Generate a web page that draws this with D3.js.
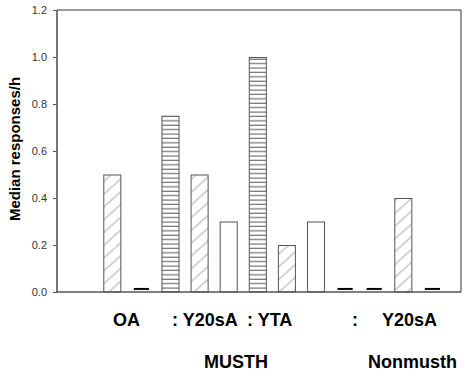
<!DOCTYPE html>
<html>
<head>
<meta charset="utf-8">
<script src="https://cdn.jsdelivr.net/npm/d3@7"></script>
<style>
  html, body { margin: 0; padding: 0; background: #fff; }
  svg { display: block; font-family: Arial, "Liberation Sans", Helvetica, sans-serif; }
</style>
</head>
<body>
<svg id="chart" width="465" height="376"></svg>
<script>
// ---- data ----
const barIds = ["b1","b2","b3","b4","b5","b6","b7","b8","b9","b10","b11","b12"];
const barValues = [0.5, 0.01, 0.75, 0.5, 0.3, 1.0, 0.2, 0.3, 0.01, 0.01, 0.4, 0.01];
const barSeries = ["diag","zero","horiz","diag","open","horiz","diag","open","zero","zero","diag","zero"];
const yTicks = [0.0, 0.2, 0.4, 0.6, 0.8, 1.0, 1.2];
const groupLabels = ["OA", ": Y20sA", ": YTA", ":", "Y20sA"];
const conditionLabels = ["MUSTH", "Nonmusth"];
const yTitle = "Median responses/h";

// ---- layout ----
const W = 465, H = 376;
const plot = { left: 57, right: 461, top: 10, bottom: 292 };
const svg = d3.select("#chart");

const y = d3.scaleLinear().domain([0, 1.2]).range([plot.bottom, plot.top]);
const x = d3.scaleBand().domain(barIds).range([97.75, 446.95]).paddingInner(0.38).paddingOuter(0.19);

// patterns
const defs = svg.append("defs");
const pd = defs.append("pattern").attr("id", "p-diag").attr("patternUnits", "userSpaceOnUse")
  .attr("width", 10).attr("height", 9.5).attr("patternTransform", "rotate(-42)");
pd.append("rect").attr("width", 10).attr("height", 9.5).attr("fill", "#fff");
pd.append("line").attr("x1", 0).attr("y1", 4.75).attr("x2", 10).attr("y2", 4.75)
  .attr("stroke", "#808080").attr("stroke-width", 0.7);
const ph = defs.append("pattern").attr("id", "p-horiz").attr("patternUnits", "userSpaceOnUse")
  .attr("width", 10).attr("height", 4.4);
ph.append("rect").attr("width", 10).attr("height", 4.4).attr("fill", "#fff");
ph.append("line").attr("x1", 0).attr("y1", 2).attr("x2", 10).attr("y2", 2)
  .attr("stroke", "#555").attr("stroke-width", 1);

const fillFor = { diag: "url(#p-diag)", horiz: "url(#p-horiz)", open: "#fff" };

// frame (top & right)
svg.append("path")
  .attr("d", `M${plot.left},${plot.top}H${plot.right}V${plot.bottom}`)
  .attr("fill", "none").attr("stroke", "#333").attr("stroke-width", 1);

// bars
const data = barIds.map((id, i) => ({ id, v: barValues[i], s: barSeries[i] }));
svg.append("g").selectAll("rect")
  .data(data.filter(d => d.s !== "zero"))
  .join("rect")
  .attr("x", d => x(d.id) + 0.5)
  .attr("y", d => y(d.v) + 0.5)
  .attr("width", x.bandwidth() - 1)
  .attr("height", d => y(0) - y(d.v) - 0.5)
  .attr("fill", d => fillFor[d.s])
  .attr("stroke", "#555").attr("stroke-width", 1);

// zero-level bars drawn as thick short lines
svg.append("g").selectAll("line")
  .data(data.filter(d => d.s === "zero"))
  .join("line")
  .attr("x1", d => x(d.id) + x.bandwidth() * 0.08)
  .attr("x2", d => x(d.id) + x.bandwidth() * 0.92)
  .attr("y1", d => y(d.v * 1.3))
  .attr("y2", d => y(d.v * 1.3))
  .attr("stroke", "#000").attr("stroke-width", 2);

// y axis
const yAxis = svg.append("g").attr("transform", `translate(${plot.left},0)`)
  .call(d3.axisLeft(y).tickValues(yTicks).tickFormat(d3.format(".1f")).tickSize(4).tickPadding(6));
yAxis.select(".domain").remove();
yAxis.selectAll(".tick line").attr("stroke", "#555");
yAxis.selectAll(".tick text").attr("fill", "#333").style("font-size", "11px").style("font-family", "Arial, 'Liberation Sans', sans-serif");

// left and bottom axis lines
svg.append("path")
  .attr("d", `M${plot.left},${plot.top}V${plot.bottom}H${plot.right}`)
  .attr("fill", "none").attr("stroke", "#555").attr("stroke-width", 1.6);

// y title
svg.append("text")
  .attr("transform", `translate(20,${(plot.top + plot.bottom) / 2 - 2}) rotate(-90)`)
  .attr("text-anchor", "middle")
  .style("font-size", "15px").style("font-weight", "bold").attr("fill", "#000")
  .text(yTitle);

// group labels (first row)
const groupX = [113, 172, 247, 352, 382];
svg.append("g").selectAll("text").data(groupLabels).join("text")
  .attr("x", (d, i) => groupX[i]).attr("y", 326)
  .style("font-size", "18px").style("font-weight", "bold").attr("fill", "#000")
  .text(d => d);

// condition labels (second row)
const condX = [204, 368];
svg.append("g").selectAll("text").data(conditionLabels).join("text")
  .attr("x", (d, i) => condX[i]).attr("y", 368)
  .style("font-size", "18px").style("font-weight", "bold").attr("fill", "#000")
  .text(d => d);
</script>
</body>
</html>
